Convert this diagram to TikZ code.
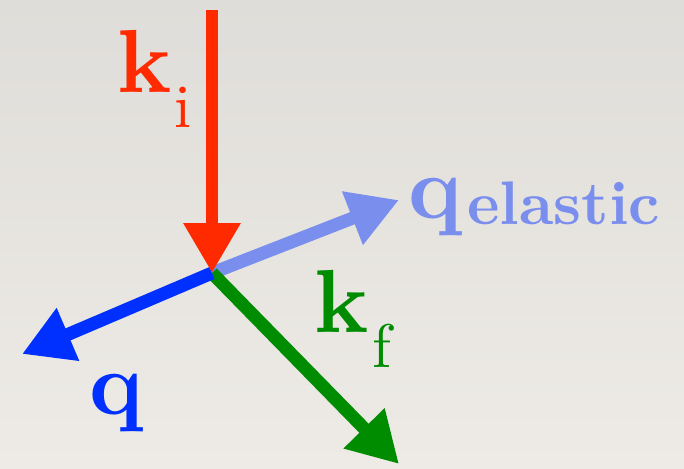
\documentclass[tikz,border=0pt]{standalone}
\usepackage{fontspec}
\setmainfont{lmroman10-regular.otf}[BoldFont=lmroman10-bold.otf]
\usetikzlibrary{arrows.meta}
\definecolor{kired}{HTML}{FF2A00}
\definecolor{qblue}{HTML}{0030FF}
\definecolor{qelblue}{HTML}{7A8EEE}
\definecolor{kfgreen}{HTML}{008C00}
\tikzset{
  vec/.style={line width=0.26cm, -{Triangle[length=1cm,width=1.08cm]}},
  big/.style={inner sep=0pt, anchor=base west, font=\fontsize{51}{51}\selectfont\bfseries},
  small/.style={inner sep=0pt, anchor=base west, font=\fontsize{35}{35}\selectfont},
}
\begin{document}
\begin{tikzpicture}[x=0.02cm, y=-0.02cm]
    % Background
    \fill[top color={rgb,255:red,223;green,221;blue,217}, bottom color={rgb,255:red,238;green,235;blue,230}] (0, 0) rectangle (684, 468);
    \useasboundingbox (0, 0) rectangle (684, 468);
    \coordinate (O) at (212, 273);
    \coordinate (kitop) at (212, 10);
    \coordinate (qeltip) at (399, 200);
    \coordinate (qtip) at (22, 354);
    \coordinate (kftip) at (399, 464);
    % Vectors
    \draw[vec, qelblue] (O) -- (qeltip);
    \draw[vec, kfgreen] (O) -- (kftip);
    \draw[vec, qblue] (O) -- (qtip);
    \draw[vec, kired] (kitop) -- (O);
    % Labels
    \node[big, kired] (ki) at (117, 92) {k};
    \node[small, kired] (kisub) at (174, 127) {i};
    \node[big, qelblue] (qel) at (408, 218) {q};
    \node[small, qelblue, font=\fontsize{35}{35}\selectfont\bfseries] (qelsub) at (467, 224) {elastic};
    \node[big, kfgreen] (kf) at (314, 332) {k};
    \node[small, kfgreen] (kfsub) at (372, 367) {f};
    \node[big, qblue] (q) at (89, 414) {q};
\end{tikzpicture}
\end{document}
